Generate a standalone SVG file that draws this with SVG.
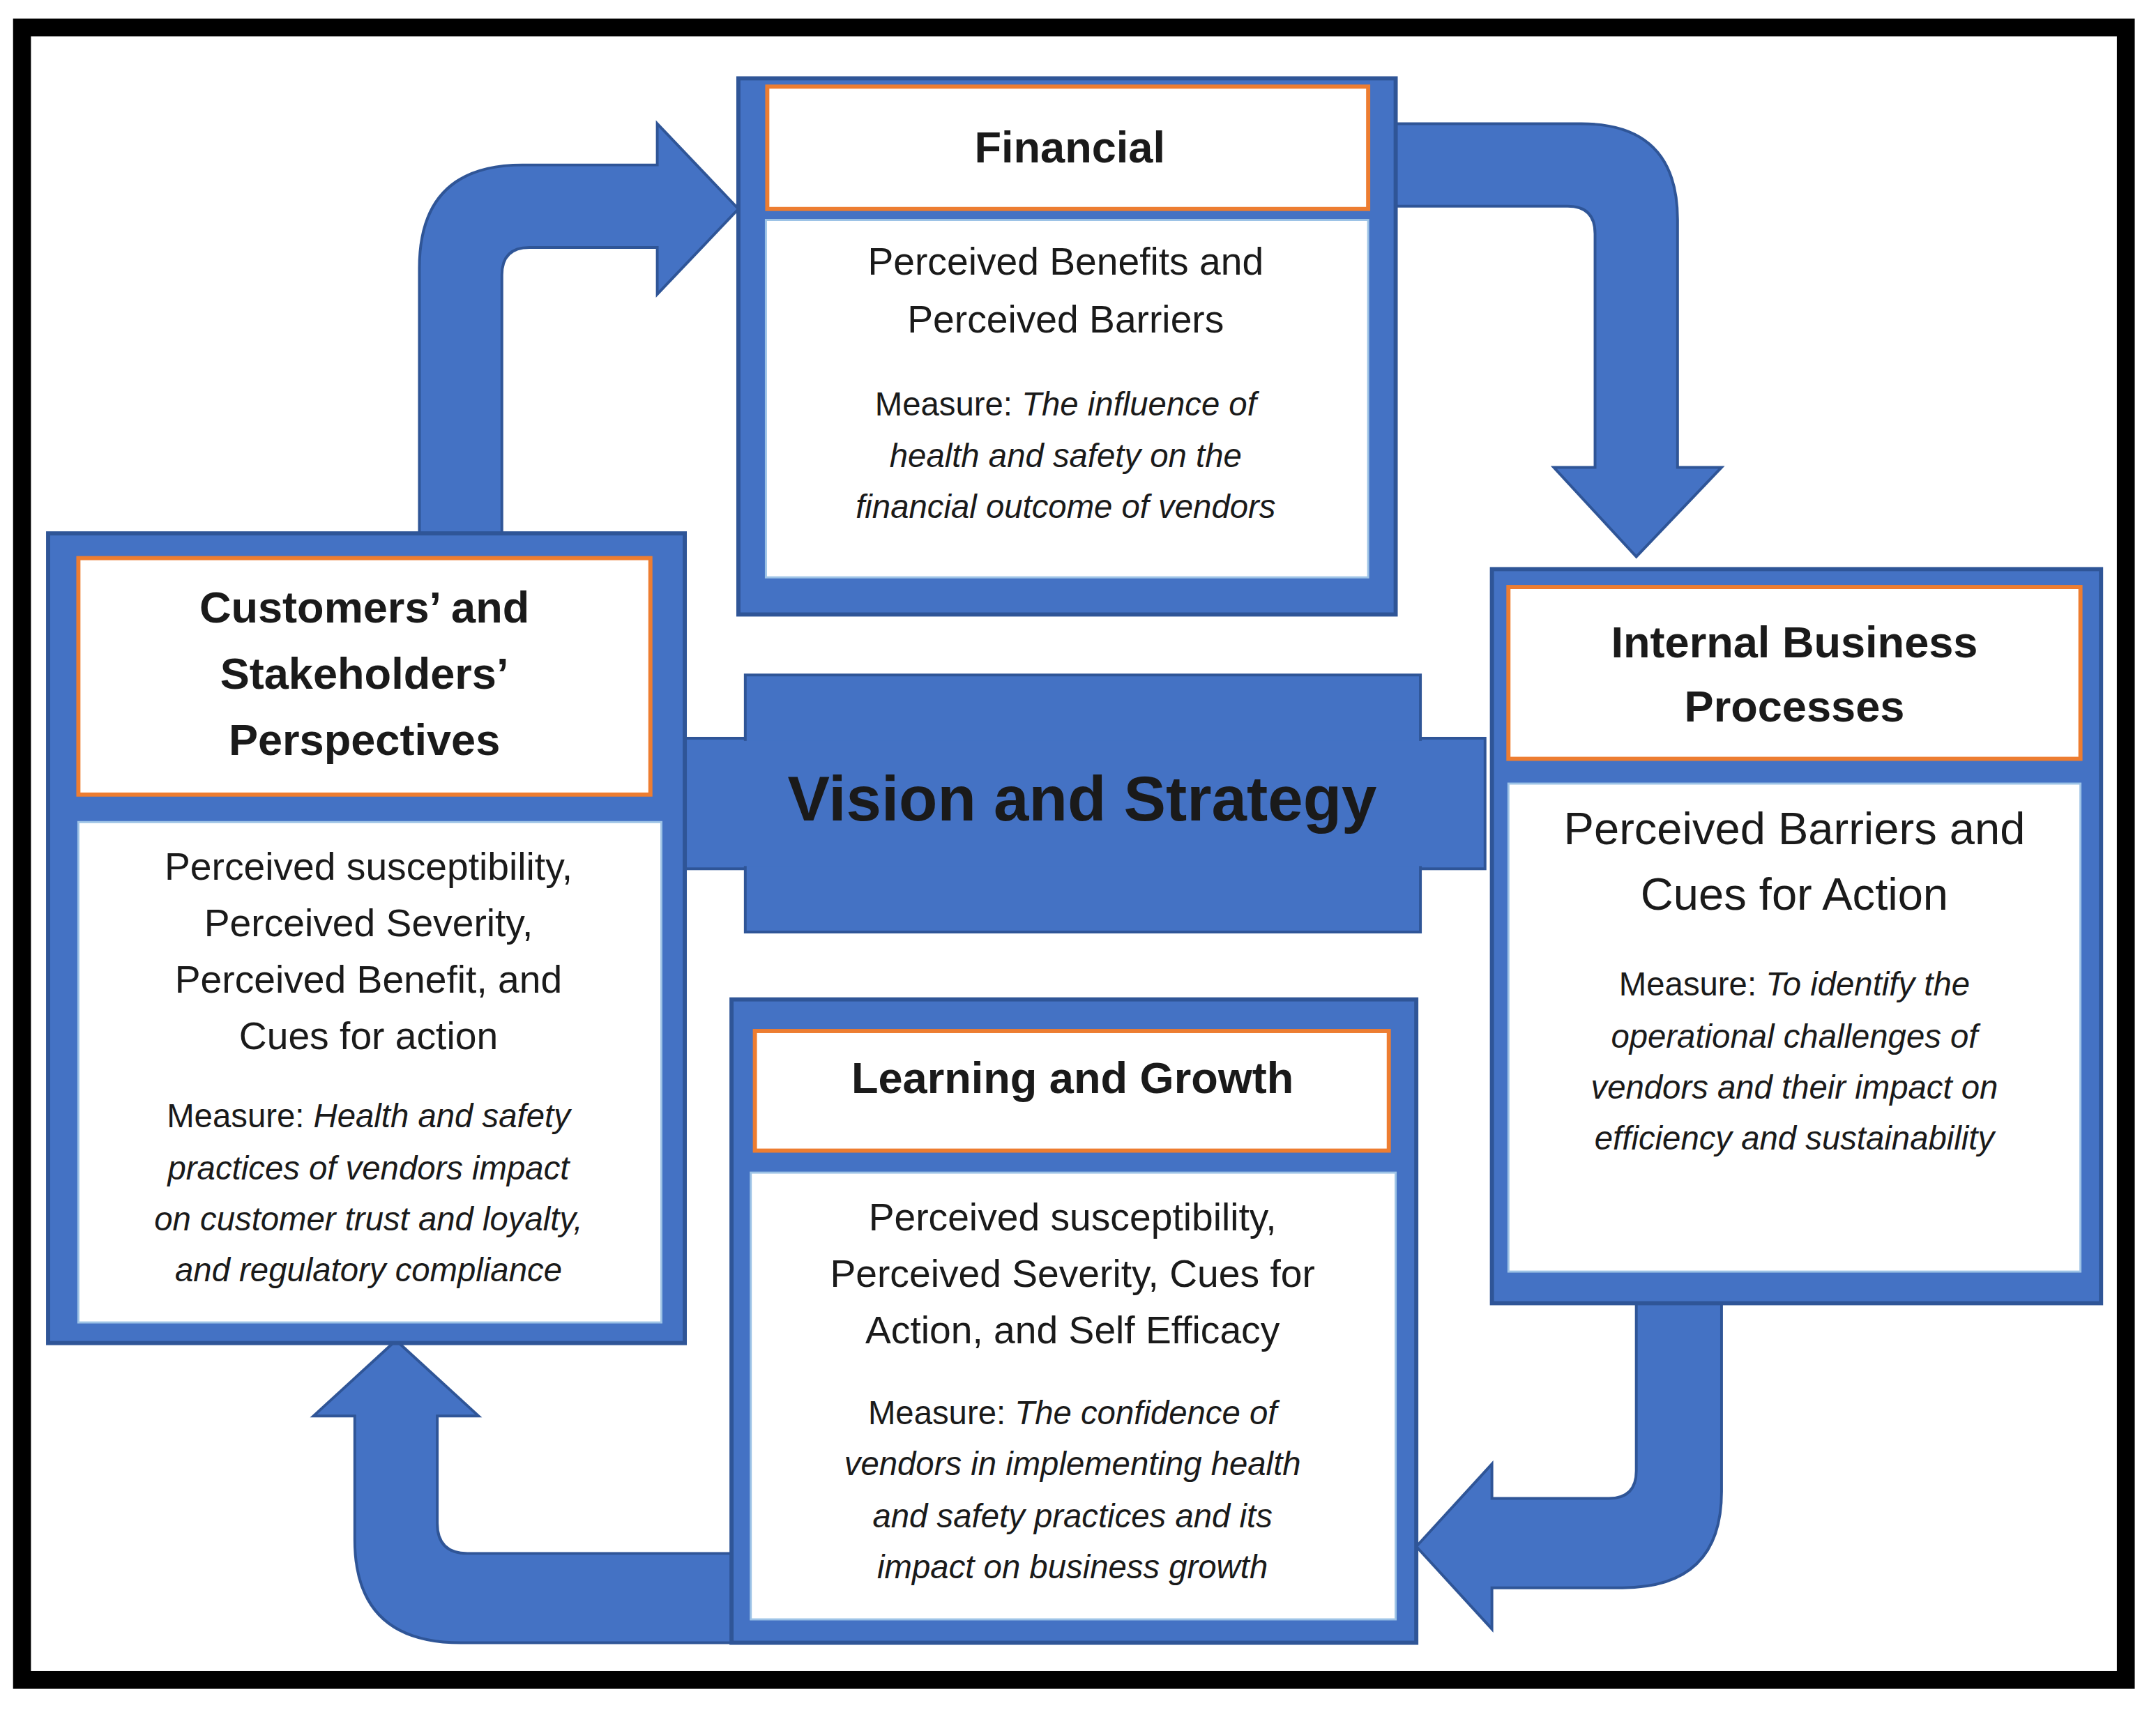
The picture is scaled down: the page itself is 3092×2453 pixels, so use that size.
<svg xmlns="http://www.w3.org/2000/svg" width="3092" height="2453" viewBox="0 0 3092 2453" font-family="Liberation Sans, Arimo, Arial, sans-serif">
<style>
.frame{fill:#4472C4;stroke:#2F5597;stroke-width:3}
.hdr{fill:#fff;stroke:#ED7D31;stroke-width:3}
.body{fill:#fff;stroke:#9DC3E6;stroke-width:1.5}
.arrow{fill:#4472C4;stroke:#2F5597;stroke-width:2}
text{font-family:'Liberation Sans',Arimo,Arial,sans-serif;fill:#1a1a1a;text-anchor:middle}
.h{font-weight:bold;font-size:32px}
.b{font-size:28px}
.m{font-size:24px}
.i{font-style:italic}
</style>
<rect width="3092" height="2453" fill="#fff"/>
<g transform="scale(1.972)">
<rect x="16" y="20" width="1530" height="1202" fill="none" stroke="#000" stroke-width="13"/>
<g id="connectors">
<path class="arrow" d="M305,388 L305,195 Q305,120 380,120 L478,120 L478,90 L537,152 L478,214 L478,180 L385,180 Q365,180 365,200 L365,388 Z"/>
<path class="arrow" d="M1015,90 L1150,90 Q1220,90 1220,160 L1220,340 L1252,340 L1190,405 L1130,340 L1160,340 L1160,170 Q1160,150 1140,150 L1015,150 Z"/>
<path class="arrow" d="M1190,948 L1190,1070 Q1190,1090 1170,1090 L1085,1090 L1085,1065 L1030,1125 L1085,1185 L1085,1155 L1180,1155 Q1252,1155 1252,1085 L1252,948 Z"/>
<path class="arrow" d="M532,1130 L340,1130 Q318,1130 318,1108 L318,1030 L348,1030 L288,975 L228,1030 L258,1030 L258,1120 Q258,1195 335,1195 L532,1195 Z"/>
</g>
<g id="vision">
<rect x="498" y="537" width="582" height="95" fill="#4472C4" stroke="#2F5597" stroke-width="2"/>
<rect x="542" y="491" width="491" height="187" fill="#4472C4" stroke="#2F5597" stroke-width="2"/>
<rect x="500" y="539" width="578" height="91" fill="#4472C4"/>
<text x="787" y="597" style="font-weight:bold;font-size:46px">Vision and Strategy</text>
</g>
<g id="financial">
<rect class="frame" x="537" y="57" width="478" height="390"/>
<rect class="hdr" x="558" y="63" width="437" height="89"/>
<rect class="body" x="557" y="160" width="438" height="260"/>
<text class="h" x="778" y="118">Financial</text>
<text class="b" x="775" y="200">Perceived Benefits and</text>
<text class="b" x="775" y="242">Perceived Barriers</text>
<text class="m" x="775" y="302">Measure: <tspan class="i">The influence of</tspan></text>
<text class="m i" x="775" y="340">health and safety on the</text>
<text class="m i" x="775" y="377">financial outcome of vendors</text>
</g>
<g id="customers">
<rect class="frame" x="35" y="388" width="463" height="589"/>
<rect class="hdr" x="57" y="406" width="416" height="172"/>
<rect class="body" x="57" y="598" width="424" height="364"/>
<text class="h" x="265" y="453">Customers’ and</text>
<text class="h" x="265" y="501">Stakeholders’</text>
<text class="h" x="265" y="549">Perspectives</text>
<text class="b" x="268" y="640">Perceived susceptibility,</text>
<text class="b" x="268" y="681">Perceived Severity,</text>
<text class="b" x="268" y="722">Perceived Benefit, and</text>
<text class="b" x="268" y="763">Cues for action</text>
<text class="m" x="268" y="820">Measure: <tspan class="i">Health and safety</tspan></text>
<text class="m i" x="268" y="858">practices of vendors impact</text>
<text class="m i" x="268" y="895">on customer trust and loyalty,</text>
<text class="m i" x="268" y="932">and regulatory compliance</text>
</g>
<g id="internal">
<rect class="frame" x="1085" y="414" width="443" height="534"/>
<rect class="hdr" x="1097" y="427" width="416" height="125"/>
<rect class="body" x="1097" y="570" width="416" height="355"/>
<text class="h" x="1305" y="478">Internal Business</text>
<text class="h" x="1305" y="525">Processes</text>
<text class="b" x="1305" y="614" style="font-size:33px">Perceived Barriers and</text>
<text class="b" x="1305" y="662" style="font-size:33px">Cues for Action</text>
<text class="m" x="1305" y="724">Measure: <tspan class="i">To identify the</tspan></text>
<text class="m i" x="1305" y="762">operational challenges of</text>
<text class="m i" x="1305" y="799">vendors and their impact on</text>
<text class="m i" x="1305" y="836">efficiency and sustainability</text>
</g>
<g id="learning">
<rect class="frame" x="532" y="727" width="498" height="468"/>
<rect class="hdr" x="549" y="750" width="461" height="87"/>
<rect class="body" x="546" y="853" width="469" height="325"/>
<text class="h" x="780" y="795">Learning and Growth</text>
<text class="b" x="780" y="895">Perceived susceptibility,</text>
<text class="b" x="780" y="936">Perceived Severity, Cues for</text>
<text class="b" x="780" y="977">Action, and Self Efficacy</text>
<text class="m" x="780" y="1036">Measure: <tspan class="i">The confidence of</tspan></text>
<text class="m i" x="780" y="1073">vendors in implementing health</text>
<text class="m i" x="780" y="1111">and safety practices and its</text>
<text class="m i" x="780" y="1148">impact on business growth</text>
</g>
</g>
</svg>
